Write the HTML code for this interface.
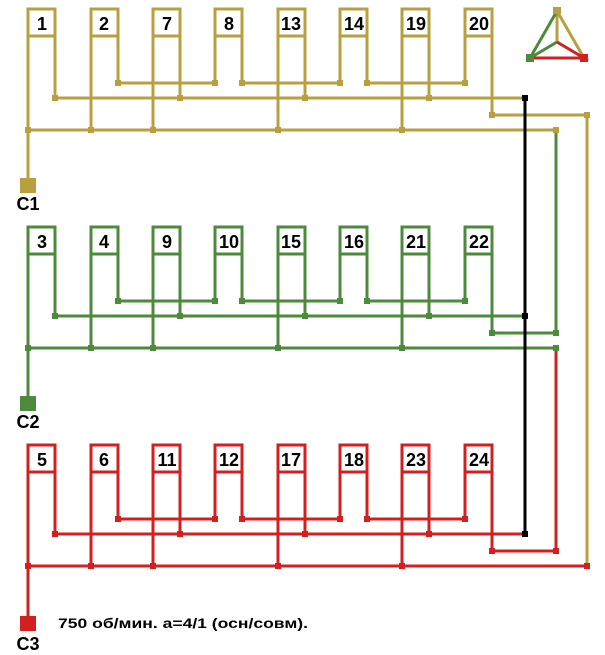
<!DOCTYPE html>
<html><head><meta charset="utf-8"><style>
html,body{margin:0;padding:0;background:#fff;width:605px;height:655px;overflow:hidden}
svg{display:block}
text{font-family:"Liberation Sans",sans-serif;font-weight:bold;fill:#000}
</style></head><body>
<svg width="605" height="655" viewBox="0 0 605 655" xmlns="http://www.w3.org/2000/svg">
<defs>
<g id="wires" fill="none" stroke-width="3">
  <rect x="28" y="9" width="27" height="27" fill="#fff"/>
  <rect x="91" y="9" width="27" height="27" fill="#fff"/>
  <rect x="153" y="9" width="27" height="27" fill="#fff"/>
  <rect x="215" y="9" width="27" height="27" fill="#fff"/>
  <rect x="278" y="9" width="27" height="27" fill="#fff"/>
  <rect x="340" y="9" width="27" height="27" fill="#fff"/>
  <rect x="402" y="9" width="27" height="27" fill="#fff"/>
  <rect x="465" y="9" width="27" height="27" fill="#fff"/>
  <path d="M28 36V130M55 36V98 M91 36V130M118 36V83 M153 36V130M180 36V98 M215 36V83M242 36V83 M278 36V130M305 36V98 M340 36V83M367 36V83 M402 36V130M429 36V98 M465 36V83M492 36V115"/>
  <path d="M118 83H215M242 83H340M367 83H465M55 98H525"/>
</g>
<g id="dots">
  <rect x="115" y="80" width="6" height="6"/><rect x="212" y="80" width="6" height="6"/>
  <rect x="239" y="80" width="6" height="6"/><rect x="337" y="80" width="6" height="6"/>
  <rect x="364" y="80" width="6" height="6"/><rect x="462" y="80" width="6" height="6"/>
  <rect x="52" y="95" width="6" height="6"/><rect x="177" y="95" width="6" height="6"/>
  <rect x="302" y="95" width="6" height="6"/><rect x="426" y="95" width="6" height="6"/>
  <rect x="489" y="112" width="6" height="6"/>
  <rect x="25" y="127" width="6" height="6"/><rect x="88" y="127" width="6" height="6"/>
  <rect x="150" y="127" width="6" height="6"/><rect x="275" y="127" width="6" height="6"/>
  <rect x="399" y="127" width="6" height="6"/>
</g>
</defs>

<g stroke="#b8a040" fill="#b8a040">
  <use href="#wires"/><use href="#dots" stroke="none"/>
  <path d="M492 115H587V566M28 130H556M28 130V180" fill="none" stroke-width="3"/>
  <rect x="584" y="112" width="6" height="6" stroke="none"/>
  <rect x="553" y="127" width="6" height="6" stroke="none"/>
  <rect x="20" y="178" width="16" height="15" stroke="none"/>
</g>
<g stroke="#4e8a3c" fill="#4e8a3c">
  <g transform="translate(0,218)"><use href="#wires"/><use href="#dots" stroke="none"/>
  <path d="M492 115H556M28 130H556M28 130V180" fill="none" stroke-width="3"/>
  <rect x="553" y="112" width="6" height="6" stroke="none"/>
  <rect x="553" y="127" width="6" height="6" stroke="none"/>
  <rect x="20" y="178" width="16" height="15" stroke="none"/></g>
  <path d="M556 133V333" fill="none" stroke-width="3"/>
</g>
<g stroke="#d22020" fill="#d22020">
  <g transform="translate(0,436)"><use href="#wires"/><use href="#dots" stroke="none"/>
  <path d="M492 115H556M28 130H587M28 130V180" fill="none" stroke-width="3"/>
  <rect x="553" y="112" width="6" height="6" stroke="none"/>
  <rect x="584" y="127" width="6" height="6" stroke="none"/>
  <rect x="20" y="180" width="16" height="15" stroke="none"/></g>
  <path d="M556 351V551" fill="none" stroke-width="3"/>
</g>
<path d="M525 98V535" stroke="#000" stroke-width="3" fill="none"/>
<rect x="522" y="95" width="6" height="6" fill="#000"/>
<rect x="522" y="313" width="6" height="6" fill="#000"/>
<rect x="522" y="531" width="6" height="6" fill="#000"/>

<g stroke-width="3" fill="none">
  <path d="M557 11V42M557 11L584 58" stroke="#b8a040"/>
  <path d="M557 11L530 58L557 42" stroke="#4e8a3c"/>
  <path d="M557 42L584 58H530" stroke="#d22020"/>
</g>
<rect x="553" y="7" width="8" height="7" fill="#b8a040"/>
<rect x="526" y="54" width="8" height="8" fill="#4e8a3c"/>
<rect x="580" y="54" width="8" height="8" fill="#d22020"/>

<g font-size="18" text-anchor="middle">
  <text x="42" y="30">1</text><text x="104" y="30">2</text><text x="167" y="30">7</text><text x="229" y="30">8</text>
  <text x="291" y="30">13</text><text x="354" y="30">14</text><text x="416" y="30">19</text><text x="479" y="30">20</text>
  <text x="42" y="248">3</text><text x="104" y="248">4</text><text x="167" y="248">9</text><text x="229" y="248">10</text>
  <text x="291" y="248">15</text><text x="354" y="248">16</text><text x="416" y="248">21</text><text x="479" y="248">22</text>
  <text x="42" y="466">5</text><text x="104" y="466">6</text><text x="167" y="466">11</text><text x="229" y="466">12</text>
  <text x="291" y="466">17</text><text x="354" y="466">18</text><text x="416" y="466">23</text><text x="479" y="466">24</text>
  <text x="28" y="210">C1</text><text x="28" y="428">C2</text><text x="28" y="650">C3</text>
</g>
<text x="58" y="628" font-size="14" textLength="250" lengthAdjust="spacingAndGlyphs">750 об/мин. а=4/1 (осн/совм).</text>
</svg>
</body></html>
